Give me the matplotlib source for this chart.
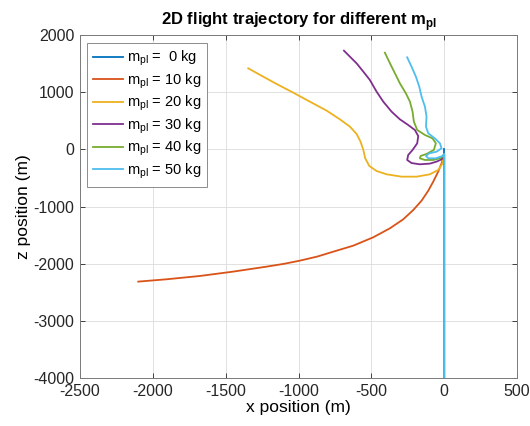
import matplotlib
matplotlib.use("Agg")
import matplotlib.pyplot as plt

plt.rcParams["font.family"] = ["Liberation Sans", "DejaVu Sans"]
plt.rcParams["mathtext.fontset"] = "custom"
plt.rcParams["mathtext.rm"] = "Liberation Sans"
plt.rcParams["mathtext.bf"] = "Liberation Sans:bold"
plt.rcParams["axes.unicode_minus"] = False

# trajectories (x, z) in metres, from release end down to the ground track at x = 0
payloads = [0, 10, 20, 30, 40, 50]
colors = ["#0072BD", "#D95319", "#EDB120", "#7E2F8E", "#77AC30", "#4DBEEE"]

x_0 = [0, 0]
z_0 = [0, -4000]

x_10 = [-2100, -1905, -1676, -1448, -1219, -1100, -990, -870, -761, -624, -487, -372, -281,
        -212, -155, -109, -75, -41, -18, -6, 0, 0]
z_10 = [-2314, -2273, -2215, -2139, -2052, -2003, -1947, -1875, -1790, -1685, -1539, -1381,
        -1224, -1061, -898, -723, -565, -390, -245, -140, -80, -4000]

x_20 = [-1345, -1242, -1150, -1036, -922, -807, -716, -647, -601, -574, -555, -542, -514,
        -464, -395, -292, -189, -98, -41, -13, 0, 0]
z_20 = [1417, 1271, 1143, 991, 834, 677, 525, 397, 268, 134, -11, -157, -291,
        -379, -437, -478, -478, -437, -361, -256, -80, -4000]

x_30 = [-688, -647, -601, -555, -510, -464, -418, -361, -304, -247, -201, -178, -185,
        -217, -247, -254, -224, -167, -98, -52, -18, 0, 0]
z_30 = [1726, 1621, 1504, 1359, 1213, 1009, 834, 659, 525, 426, 338, 233, 105,
        -11, -99, -186, -240, -262, -250, -215, -175, -80, -4000]

x_40 = [-407, -372, -338, -304, -263, -235, -217, -208, -185, -132, -80, -57, -71,
        -121, -162, -167, -132, -75, -29, -11, 0, 0]
z_40 = [1691, 1504, 1330, 1155, 980, 834, 659, 484, 338, 251, 192, 105, -11,
        -81, -116, -157, -186, -186, -157, -128, -80, -4000]

x_50 = [-254, -224, -194, -171, -155, -132, -121, -125, -109, -64, -29, -18, -52,
        -103, -125, -109, -57, -11, 0, 0]
z_50 = [1609, 1446, 1271, 1096, 921, 746, 572, 397, 280, 192, 105, 18, -41,
        -70, -116, -157, -157, -116, -80, -4000]

xs = [x_0, x_10, x_20, x_30, x_40, x_50]
zs = [z_0, z_10, z_20, z_30, z_40, z_50]

x_ticks = [-2500, -2000, -1500, -1000, -500, 0, 500]
z_ticks = [-4000, -3000, -2000, -1000, 0, 1000, 2000]

fig = plt.figure(figsize=(5.3, 4.26), dpi=100)
ax = fig.add_axes([80 / 530, 48 / 426, 437 / 530, 343 / 426])

for m, x, z, c in zip(payloads, xs, zs, colors):
    label = "m$_{\\mathregular{pl}}$ = %2d kg" % m if m else "m$_{\\mathregular{pl}}$ =  0 kg"
    ax.plot(x, z, color=c, lw=1.3, label=label)

ax.set_xlim(-2500, 500)
ax.set_ylim(-4000, 2000)
ax.set_xticks(x_ticks)
ax.set_yticks(z_ticks)
ax.grid(True, color="#dcdcdc", lw=0.6)
ax.set_axisbelow(True)
ax.tick_params(direction="in", length=3.5, width=0.6, top=True, right=True,
               labelsize=11.5, colors="#262626", pad=4)
for s in ax.spines.values():
    s.set_color("#7a7a7a")
    s.set_linewidth(0.7)

ax.set_xlabel("x position (m)", fontsize=12.5, labelpad=1)
ax.set_ylabel("z position (m)", fontsize=12.5, labelpad=2)
ax.set_title("2D flight trajectory for different m$_{\\mathbf{pl}}$",
             fontsize=12, fontweight="bold", pad=7)

leg = ax.legend(loc="upper left", bbox_to_anchor=(0.016, 0.977), borderaxespad=0,
                fontsize=10.5, fancybox=False, handlelength=2.1, handletextpad=0.25,
                labelspacing=0.2, borderpad=0.4, framealpha=1)
leg.get_frame().set_edgecolor("#8c8c8c")
leg.get_frame().set_linewidth(0.7)

fig.savefig("out.png", dpi=100)
